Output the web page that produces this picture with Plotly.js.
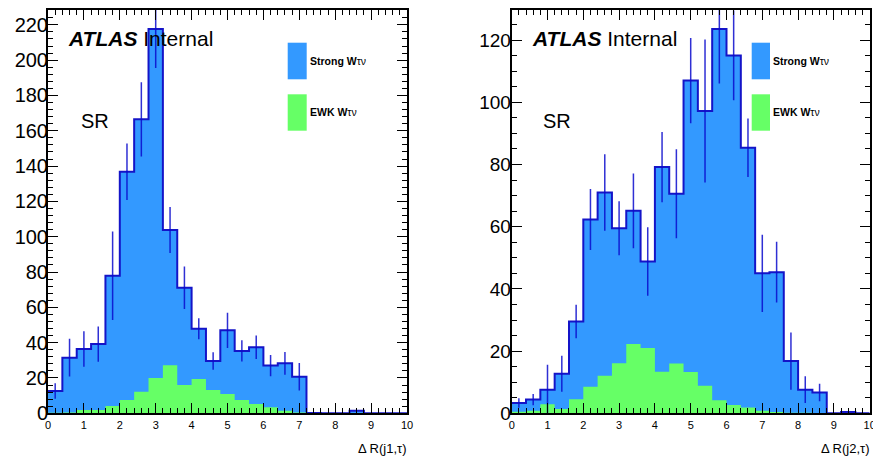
<!DOCTYPE html>
<html>
<head>
<meta charset="utf-8">
<script src="https://cdn.plot.ly/plotly-3.0.1.min.js"></script>
<style>html,body{margin:0;padding:0;background:#fff;}#chart{width:873px;height:459px;}</style>
</head>
<body>
<div id="chart"></div>
<script>
// ---- data ----
const binEdges = [0,0.4,0.8,1.2,1.6,2.0,2.4,2.8,3.2,3.6,4.0,4.4,4.8,5.2,5.6,6.0,6.4,6.8,7.2,7.6,8.0,8.4,8.8,9.2,9.6,10.0];
const xTickLabels = ["0","1","2","3","4","5","6","7","8","9","10"];

// Delta R(j1,tau)
const j1EWK    = [0.3,0.4,1.9,1.9,4.1,7.5,12.2,20.0,27.2,16.0,19.4,13.2,10.9,7.5,5.3,3.4,1.5,0.4,0,0,0,0,0,0,0];
const j1Strong = [12.3,31.1,34.5,37.3,73.8,129.3,154.3,197.6,76.6,55.1,28.5,16.4,36.1,27.8,32.1,23.6,26.8,20.3,0.2,0,0,1.5,0,0,0];
const j1Err    = [4.4,10.7,10,10,25,16,21,22,13,12,6,5,10,6,6.6,6,6.4,7.8,0,0,0,0,0,0,0];

// Delta R(j2,tau)
const j2EWK    = [0.5,0.8,2.9,1.4,4.5,8.5,12.1,16.1,22.3,21.0,13.4,16.0,13.3,8.9,4.2,2.7,1.9,0.8,0.4,0.2,0.2,0.1,0,0,0];
const j2Strong = [2.8,3.6,4.7,11.3,25.0,53.8,58.9,43.4,42.8,27.8,65.8,54.6,93.7,88.3,119.4,112.4,83.5,44.2,45.0,16.6,7.4,6.6,0,0.4,0];
const j2Err    = [1.5,1.8,8,5.8,5.4,9.8,12.3,8.7,12,11,11.3,14.3,13.7,23,17.5,14.4,9.4,12.4,9.8,9.2,4.3,2.8,0,0,0];

// ---- styles ----
const W = 873, H = 459;
const BLUE = '#3399ff', GREEN = '#66ff66', OUTLINE = '#1414c8', ERRC = 'rgba(10,10,205,0.85)';
const FONT = 'Liberation Sans, Arial, Helvetica, sans-serif';
const px = x => x / W, py = y => 1 - y / H;

function stackTraces(ewk, strong, err, xa, ya) {
  const total = strong.map((v, i) => v + ewk[i]);
  const centres = binEdges.slice(0, -1).map((e, i) => (e + binEdges[i + 1]) / 2);
  const ex = [], ey = [], ee = [];
  err.forEach((e, i) => { if (e > 0) { ex.push(centres[i]); ey.push(total[i]); ee.push(e); } });
  return [
    {x: binEdges, y: total.concat([total[total.length - 1]]), xaxis: xa, yaxis: ya, mode: 'lines',
     line: {shape: 'hv', color: OUTLINE, width: 2}, fill: 'tozeroy', fillcolor: BLUE, hoverinfo: 'skip'},
    {x: binEdges, y: ewk.concat([ewk[ewk.length - 1]]), xaxis: xa, yaxis: ya, mode: 'lines',
     line: {shape: 'hv', color: GREEN, width: 0}, fill: 'tozeroy', fillcolor: GREEN, hoverinfo: 'skip'},
    {x: ex, y: ey, xaxis: xa, yaxis: ya, mode: 'markers', marker: {size: 1, opacity: 0},
     error_y: {type: 'data', array: ee, visible: true, width: 0, thickness: 1.5, color: ERRC}, hoverinfo: 'skip'}
  ];
}

const data = [].concat(
  stackTraces(j1EWK, j1Strong, j1Err, 'x', 'y'),
  stackTraces(j2EWK, j2Strong, j2Err, 'x2', 'y2')
);

const common = {
  showline: true, linecolor: 'black', linewidth: 2, mirror: 'ticks',
  ticks: 'inside', ticklen: 10, tickwidth: 1, tickcolor: 'black',
  showgrid: false, zeroline: false, fixedrange: true, tickmode: 'linear', tick0: 0,
  ticklabeloverflow: 'allow'
};
const xCommon = Object.assign({}, common, {
  range: [0, 10], dtick: 1, tickfont: {family: FONT, size: 11, color: 'black'},
  minor: {dtick: 0.2, tick0: 0, ticks: 'inside', ticklen: 5, tickwidth: 1, tickcolor: 'black', showgrid: false}
});
const yDomain = [py(413.3), py(10)];

function ann(text, x, y, xanchor, size) {
  return {text: text, xref: 'paper', yref: 'paper', x: px(x), y: py(y), xanchor: xanchor, yanchor: 'middle',
          showarrow: false, font: {family: FONT, size: size, color: 'black'}};
}

const layout = {
  width: W, height: H, margin: {l: 0, r: 0, t: 0, b: 0},
  paper_bgcolor: 'white', plot_bgcolor: 'white', showlegend: false,
  font: {family: FONT, color: 'black'},
  xaxis: Object.assign({}, xCommon, {domain: [px(48), px(407)], anchor: 'y'}),
  xaxis2: Object.assign({}, xCommon, {domain: [px(511.7), px(869.7)], anchor: 'y2'}),
  yaxis: Object.assign({}, common, {domain: yDomain, anchor: 'x', range: [0, 228.4], dtick: 20,
    tickfont: {family: FONT, size: 20, color: 'black'}, ticklabelstandoff: -6,
    minor: {dtick: 4, tick0: 0, ticks: 'inside', ticklen: 5, tickwidth: 1, tickcolor: 'black', showgrid: false}}),
  yaxis2: Object.assign({}, common, {domain: yDomain, anchor: 'x2', range: [0, 129.7], dtick: 20,
    tickfont: {family: FONT, size: 19, color: 'black'}, ticklabelstandoff: -5,
    minor: {dtick: 5, tick0: 0, ticks: 'inside', ticklen: 5, tickwidth: 1, tickcolor: 'black', showgrid: false}}),
  shapes: [
    {type: 'rect', xref: 'paper', yref: 'paper', x0: px(287.7), x1: px(306.7), y0: py(79.3), y1: py(42.7), fillcolor: BLUE, line: {width: 0}},
    {type: 'rect', xref: 'paper', yref: 'paper', x0: px(287.7), x1: px(306.7), y0: py(130.7), y1: py(94.3), fillcolor: GREEN, line: {width: 0}},
    {type: 'rect', xref: 'paper', yref: 'paper', x0: px(751.7), x1: px(770), y0: py(79.3), y1: py(42.7), fillcolor: BLUE, line: {width: 0}},
    {type: 'rect', xref: 'paper', yref: 'paper', x0: px(751.7), x1: px(770), y0: py(130.7), y1: py(94.3), fillcolor: GREEN, line: {width: 0}}
  ],
  annotations: [
    ann('<b><i>ATLAS</i></b> Internal', 66, 38, 'left', 21),
    ann('<b><i>ATLAS</i></b> Internal', 529.7, 38, 'left', 21),
    ann('SR', 79, 121, 'left', 20),
    ann('SR', 541, 121, 'left', 20),
    ann('<b>Strong W</b>τν', 308, 61, 'left', 10.5),
    ann('<b>EWK W</b>τν', 308, 112, 'left', 10.5),
    ann('<b>Strong W</b>τν', 771.3, 61, 'left', 10.5),
    ann('<b>EWK W</b>τν', 771.3, 112, 'left', 10.5),
    ann('Δ R(j1,τ)', 409, 448, 'right', 13),
    ann('Δ R(j2,τ)', 871.5, 448, 'right', 13)
  ]
};

Plotly.newPlot('chart', data, layout, {staticPlot: true, displayModeBar: false});
</script>
</body>
</html>
